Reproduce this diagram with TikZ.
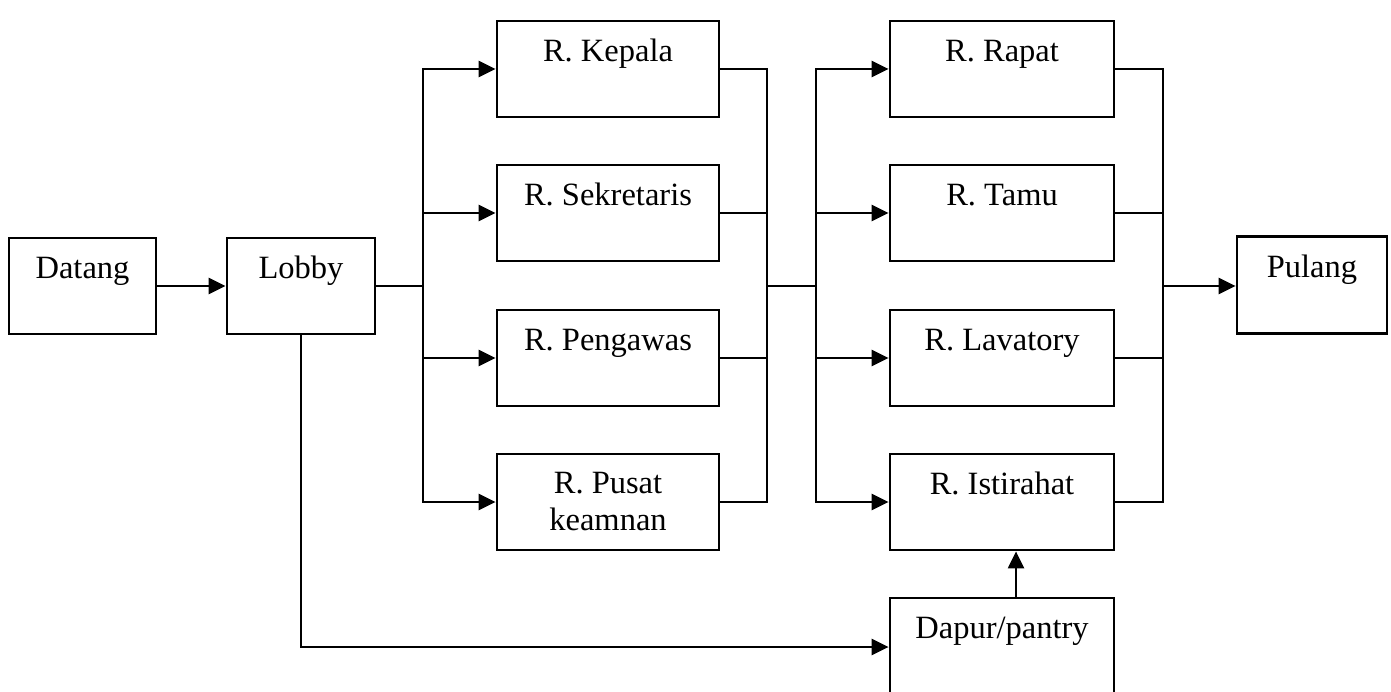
\documentclass[tikz,border=0pt]{standalone}
\usepackage{fontspec}
\setmainfont{Liberation Serif}
\usetikzlibrary{arrows.meta}

% a room: framed box plus its caption, whose last baseline sits #6 below the top edge
\newcommand\roombox[6][42]{%
  \node[box, minimum width=#4pt, minimum height=#5pt] (#2) at #3 {};
  \node[txt] (#2-t) at ([yshift=-#1pt]#2.north) {#6};}

\begin{document}
\begin{tikzpicture}[x=1pt,y=-1pt,
  box/.style={draw, line width=2.8pt, inner sep=0pt},
  txt/.style={anchor=base, align=center, inner sep=0pt,
              font=\fontsize{32.5}{37}\selectfont},
  ln/.style={line width=2.4pt, line cap=rect},
  arr/.style={line width=2.4pt, -{Triangle[length=17pt,width=16pt]}}]
\useasboundingbox (0,0) rectangle (1391,692);

% entrance and exit
\roombox{datang}{(82.5,286)}{147}{96}{Datang}
\roombox{lobby}{(301,286)}{148}{96}{Lobby}
\roombox{pulang}{(1312,285)}{150}{97}{Pulang}

% first group of rooms
\roombox{kepala}{(608,69)}{222}{96}{R. Kepala}
\roombox{sekretaris}{(608,213)}{222}{96}{R. Sekretaris}
\roombox{pengawas}{(608,358)}{222}{96}{R. Pengawas}
\roombox[78]{pusat}{(608,502)}{222}{96}{R. Pusat\\keamnan}

% second group of rooms
\roombox{rapat}{(1002,69)}{224}{96}{R. Rapat}
\roombox{tamu}{(1002,213)}{224}{96}{R. Tamu}
\roombox{lavatory}{(1002,358)}{224}{96}{R. Lavatory}
\roombox{istirahat}{(1002,502)}{224}{96}{R. Istirahat}
\roombox{dapur}{(1002,647)}{224}{98}{Dapur/pantry}

% bus lines
\coordinate (busA) at (423,286);
\coordinate (busB) at (767,286);
\coordinate (busC) at (816,286);
\coordinate (busD) at (1163,286);
\coordinate (riser) at (1016,0);

\draw[arr] (datang.east) -- (lobby.west);

% lobby fans out to the first group
\draw[ln] (lobby.east) -- (busA);
\draw[ln] (kepala.west -| busA) -- (pusat.west -| busA);
\foreach \r in {kepala,sekretaris,pengawas,pusat}
  \draw[arr] (\r.west -| busA) -- (\r.west);

% first group gathers and fans out to the second group
\foreach \r in {kepala,sekretaris,pengawas,pusat}
  \draw[ln] (\r.east) -- (\r.east -| busB);
\draw[ln] (kepala.east -| busB) -- (pusat.east -| busB);
\draw[ln] (busB) -- (busC);
\draw[ln] (rapat.west -| busC) -- (istirahat.west -| busC);
\foreach \r in {rapat,tamu,lavatory,istirahat}
  \draw[arr] (\r.west -| busC) -- (\r.west);

% second group gathers towards the exit
\foreach \r in {rapat,tamu,lavatory,istirahat}
  \draw[ln] (\r.east) -- (\r.east -| busD);
\draw[ln] (rapat.east -| busD) -- (istirahat.east -| busD);
\draw[arr] (busD) -- (busD -| pulang.west);

% service route through the pantry
\draw[arr] (lobby.south) |- (dapur.west);
\draw[arr] (dapur.north -| riser) -- (istirahat.south -| riser);
\end{tikzpicture}
\end{document}
